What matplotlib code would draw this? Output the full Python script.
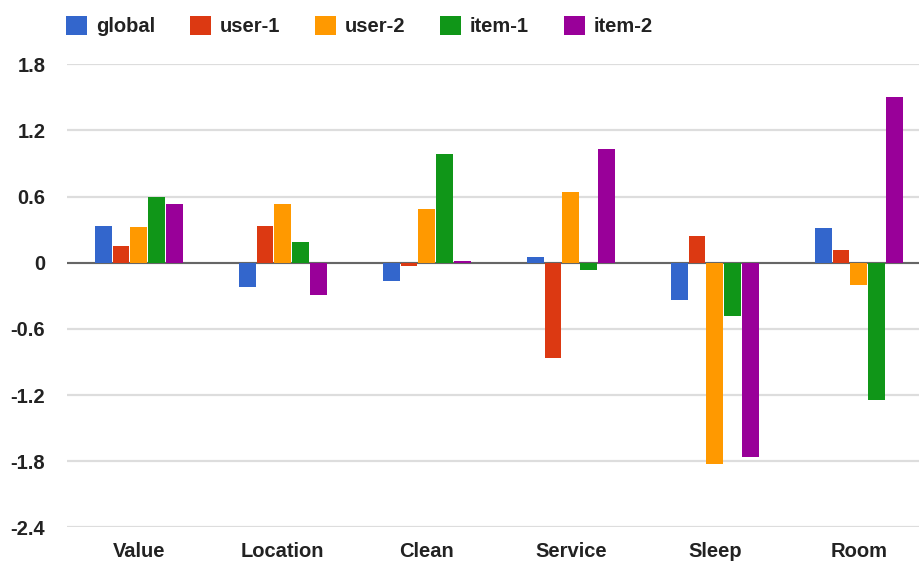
import matplotlib
matplotlib.use("Agg")
import matplotlib.pyplot as plt
import numpy as np

plt.rcParams['font.family'] = ['Liberation Sans', 'DejaVu Sans']

categories = ["Value", "Location", "Clean", "Service", "Sleep", "Room"]
series_names = ["global", "user-1", "user-2", "item-1", "item-2"]
global_vals = [0.336, -0.224, -0.167, 0.048, -0.336, 0.315]
user1_vals = [0.155, 0.336, -0.030, -0.861, 0.239, 0.118]
user2_vals = [0.324, 0.536, 0.485, 0.639, -1.830, -0.203]
item1_vals = [0.594, 0.185, 0.982, -0.070, -0.482, -1.242]
item2_vals = [0.536, -0.297, 0.015, 1.030, -1.758, 1.500]
colors = ["#3366cc", "#dc3912", "#ff9900", "#109618", "#990099"]
y_ticks = [-2.4, -1.8, -1.2, -0.6, 0, 0.6, 1.2, 1.8]
y_tick_labels = ["-2.4", "-1.8", "-1.2", "-0.6", "0", "0.6", "1.2", "1.8"]

series = [global_vals, user1_vals, user2_vals, item1_vals, item2_vals]

fig = plt.figure(figsize=(9.2, 5.61), dpi=100)
ax = fig.add_axes([66.8 / 920, 1 - 527.3 / 561, 864 / 920, (527.3 - 64.3) / 561])

x = np.arange(len(categories))
pitch = 0.123
width = 0.116
handles = []
for i, (name, vals, c) in enumerate(zip(series_names, series, colors)):
    h = ax.bar(x + (i - 2) * pitch, vals, width, color=c, label=name, zorder=3)
    handles.append(h)

ax.set_xlim(-0.5, len(categories) - 0.5)
ax.set_ylim(-2.4, 1.8)
ax.set_yticks(y_ticks)
ax.set_yticklabels(y_tick_labels)
ax.set_xticks(x)
ax.set_xticklabels(categories)
for s in ax.spines.values():
    s.set_visible(False)
ax.tick_params(axis='both', length=0, labelsize=14.5, labelcolor="#222222")
ax.tick_params(axis='y', pad=15.5)
ax.tick_params(axis='x', pad=10.5)
for lab in ax.get_xticklabels() + ax.get_yticklabels():
    lab.set_fontweight('bold')
ax.yaxis.grid(True, color="#dddddd", linewidth=1.6, zorder=0)
ax.set_axisbelow(True)
ax.axhline(0, color="#666666", linewidth=1.5, zorder=2.5)

leg = fig.legend(handles=handles, labels=series_names, ncol=5,
                 loc='center left', bbox_to_anchor=(48 / 920, 1 - 26.4 / 561),
                 frameon=False, handlelength=1.04, handleheight=1.04,
                 handletextpad=0.45, columnspacing=1.72,
                 prop={'weight': 'bold', 'size': 14.5})
for t in leg.get_texts():
    t.set_color("#222222")

fig.savefig("out.png", dpi=100)
